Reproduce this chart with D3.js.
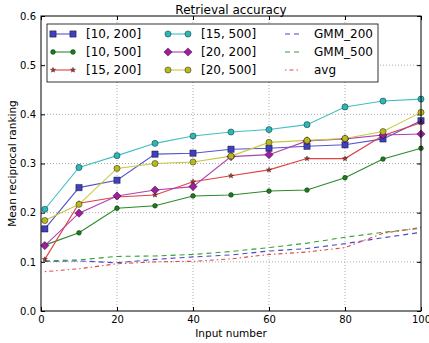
<!DOCTYPE html>
<html>
<head>
<meta charset="utf-8">
<script src="https://cdn.jsdelivr.net/npm/d3@7"></script>
<style>
  body { margin: 0; background: #fff; }
  text { font-family: "DejaVu Sans", sans-serif; fill: #000; }
</style>
</head>
<body>
<div id="chart"></div>
<script>
// x values (input number)
const inputs = [1, 10, 20, 30, 40, 50, 60, 70, 80, 90, 100];

// series values
const s10_200 = [0.167, 0.251, 0.266, 0.319, 0.321, 0.329, 0.331, 0.335, 0.338, 0.350, 0.387];
const s10_500 = [0.134, 0.159, 0.209, 0.214, 0.234, 0.236, 0.244, 0.246, 0.271, 0.309, 0.331];
const s15_200 = [0.105, 0.219, 0.232, 0.236, 0.263, 0.275, 0.287, 0.310, 0.310, 0.357, 0.383];
const s15_500 = [0.207, 0.292, 0.316, 0.341, 0.356, 0.364, 0.369, 0.379, 0.415, 0.427, 0.431];
const s20_200 = [0.133, 0.199, 0.234, 0.246, 0.253, 0.314, 0.318, 0.346, 0.350, 0.358, 0.360];
const s20_500 = [0.184, 0.217, 0.290, 0.300, 0.303, 0.315, 0.343, 0.347, 0.351, 0.365, 0.404];
const gmm200 = [0.101, 0.102, 0.098, 0.105, 0.110, 0.114, 0.122, 0.127, 0.137, 0.149, 0.160];
const gmm500 = [0.102, 0.104, 0.111, 0.112, 0.115, 0.121, 0.129, 0.138, 0.150, 0.160, 0.168];
const avg = [0.080, 0.086, 0.096, 0.100, 0.101, 0.106, 0.115, 0.120, 0.129, 0.158, 0.170];

const xTicks = [0, 20, 40, 60, 80, 100];
const yTicks = [0.0, 0.1, 0.2, 0.3, 0.4, 0.5, 0.6];

const series = [
  {name: "[10, 200]", values: s10_200, color: "#3f3fbf", line: "#5555cc", marker: "square"},
  {name: "[10, 500]", values: s10_500, color: "#1a801a", line: "#2a8a2a", marker: "dot"},
  {name: "[15, 200]", values: s15_200, color: "#d03030", line: "#e04040", marker: "star"},
  {name: "[15, 500]", values: s15_500, color: "#2ab8b8", line: "#40c0c0", marker: "circle"},
  {name: "[20, 200]", values: s20_200, color: "#a01ca0", line: "#b040b0", marker: "diamond"},
  {name: "[20, 500]", values: s20_500, color: "#b8b820", line: "#c8c840", marker: "circle"},
  {name: "GMM_200", values: gmm200, line: "#4848c8", dash: "5,4"},
  {name: "GMM_500", values: gmm500, line: "#30a030", dash: "5,4"},
  {name: "avg", values: avg, line: "#e04848", dash: "1.5,3,4,3"}
];

let margin = {top: 16, right: 8, bottom: 32, left: 41},
    width = 429 - margin.left - margin.right,
    height = 343 - margin.top - margin.bottom;

let svg = d3.select("#chart")
  .append("svg")
    .attr("width", 429)
    .attr("height", 343);

let g = svg.append("g")
    .attr("transform", "translate(" + margin.left + "," + margin.top + ")");

let x = d3.scaleLinear().domain([0, 100]).range([0, width]);
let y = d3.scaleLinear().domain([0, 0.6]).range([height, 0]);

// grid
g.append("g").selectAll("line")
  .data(xTicks.slice(1, -1))
  .enter().append("line")
    .attr("x1", d => x(d)).attr("x2", d => x(d))
    .attr("y1", 0).attr("y2", height)
    .attr("stroke", "#999").attr("stroke-width", 0.8).attr("stroke-dasharray", "1,2");
g.append("g").selectAll("line")
  .data(yTicks.slice(1, -1))
  .enter().append("line")
    .attr("y1", d => y(d)).attr("y2", d => y(d))
    .attr("x1", 0).attr("x2", width)
    .attr("stroke", "#999").attr("stroke-width", 0.8).attr("stroke-dasharray", "1,2");

// axes, ticks pointing inward
g.append("g")
  .attr("transform", "translate(0," + height + ")")
  .call(d3.axisBottom(x).tickValues(xTicks).tickFormat(d3.format("d")).tickSizeInner(-4).tickSizeOuter(0).tickPadding(5));
g.append("g")
  .call(d3.axisLeft(y).tickValues(yTicks).tickFormat(d3.format(".1f")).tickSizeInner(-4).tickSizeOuter(0).tickPadding(5));
g.append("g")
  .call(d3.axisTop(x).tickValues(xTicks).tickFormat("").tickSizeInner(-4).tickSizeOuter(0));
g.append("g")
  .attr("transform", "translate(" + width + ",0)")
  .call(d3.axisRight(y).tickValues(yTicks).tickFormat("").tickSizeInner(-4).tickSizeOuter(0));
g.selectAll(".domain").remove();
g.selectAll(".tick text").attr("font-size", 10).attr("font-family", "DejaVu Sans");
g.selectAll(".tick line").attr("stroke", "#000");

// lines
let line = d3.line()
  .x((d, i) => x(inputs[i]))
  .y(d => y(d));

const symbols = {
  square: d3.symbol().type(d3.symbolSquare).size(40)(),
  dot: d3.symbol().type(d3.symbolCircle).size(18)(),
  star: d3.symbol().type(d3.symbolStar).size(8)(),
  circle: d3.symbol().type(d3.symbolCircle).size(30)(),
  diamond: d3.symbol().type(d3.symbolSquare).size(34)()
};
function markerTransform(s, px, py) {
  return "translate(" + px + "," + py + ")" + (s.marker === "diamond" ? " rotate(45)" : "");
}

series.forEach(s => {
  g.append("path")
    .datum(s.values)
    .attr("fill", "none")
    .attr("stroke", s.line)
    .attr("stroke-width", 1.1)
    .attr("stroke-dasharray", s.dash || null)
    .attr("d", line);
});

series.filter(s => s.marker).forEach(s => {
  g.append("g").selectAll("path")
    .data(s.values)
    .enter().append("path")
      .attr("transform", (d, i) => markerTransform(s, x(inputs[i]), y(d)))
      .attr("d", symbols[s.marker])
      .attr("fill", s.color)
      .attr("stroke", "#000")
      .attr("stroke-width", 0.4);
});

// frame
g.append("rect")
  .attr("width", width).attr("height", height)
  .attr("fill", "none").attr("stroke", "#000").attr("stroke-width", 1);

// legend
let legend = g.append("g").attr("transform", "translate(6,8)");
legend.append("rect")
  .attr("width", 331).attr("height", 58)
  .attr("fill", "#fff").attr("stroke", "#000").attr("stroke-width", 0.8);

let colX = [6, 121, 238], rowY = [10, 28, 46];
series.forEach((s, i) => {
  let cx = colX[Math.floor(i / 3)], cy = rowY[i % 3];
  let item = legend.append("g").attr("transform", "translate(" + cx + "," + cy + ")");
  item.append("line")
    .attr("x1", 0).attr("x2", s.marker ? 20 : 14).attr("y1", 0).attr("y2", 0)
    .attr("stroke", s.line).attr("stroke-width", 1.1)
    .attr("stroke-dasharray", s.dash || null);
  if (s.marker) {
    [0, 20].forEach(px => {
      item.append("path")
        .attr("transform", markerTransform(s, px, 0))
        .attr("d", symbols[s.marker])
        .attr("fill", s.color).attr("stroke", "#000").attr("stroke-width", 0.4);
    });
  }
  item.append("text")
    .attr("x", s.marker ? 33 : 29).attr("y", 0).attr("dy", "0.35em")
    .attr("font-size", 12)
    .text(s.name);
});

// title and labels
svg.append("text")
  .attr("x", margin.left + width / 2).attr("y", 14)
  .attr("text-anchor", "middle").attr("font-size", 12)
  .text("Retrieval accuracy");
svg.append("text")
  .attr("x", margin.left + width / 2).attr("y", 337)
  .attr("text-anchor", "middle").attr("font-size", 10.5)
  .text("Input number");
svg.append("text")
  .attr("transform", "translate(16," + (margin.top + height / 2) + ") rotate(-90)")
  .attr("text-anchor", "middle").attr("font-size", 10.5)
  .text("Mean reciprocal ranking");
</script>
</body>
</html>
